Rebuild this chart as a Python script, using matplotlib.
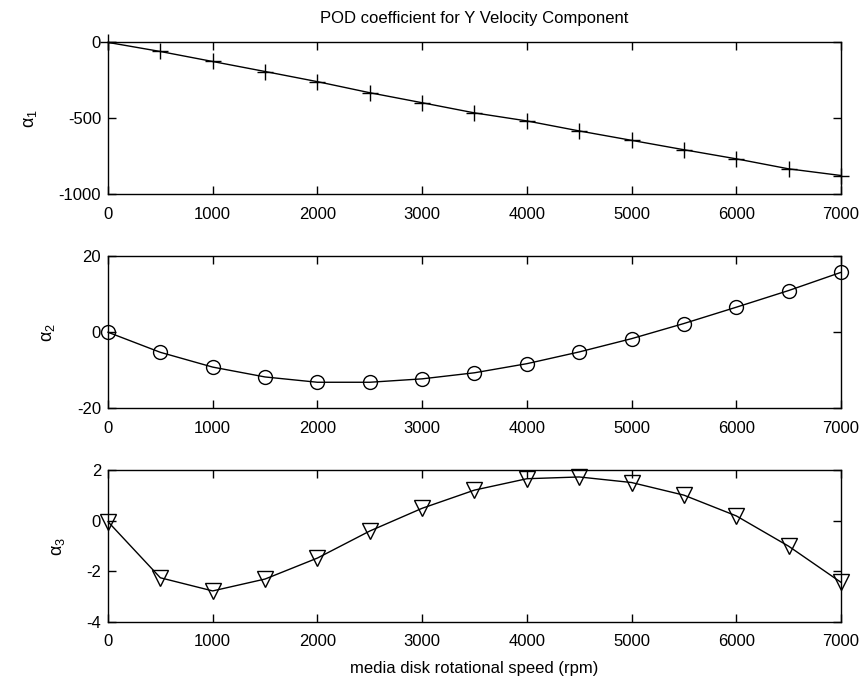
import numpy as np
import matplotlib
matplotlib.use("Agg")
import matplotlib.pyplot as plt

# rotational speed (rpm)
speed = [0, 500, 1000, 1500, 2000, 2500, 3000, 3500, 4000, 4500, 5000, 5500, 6000, 6500, 7000]

# POD coefficients
alpha1 = [0, -60, -126, -192, -259, -332, -398, -465, -518, -584, -646, -708, -768, -834, -878]
alpha2 = [0, -5.3, -9.2, -11.8, -13.2, -13.2, -12.3, -10.7, -8.3, -5.2, -1.7, 2.3, 6.6, 11.0, 15.8]
alpha3 = [-0.03, -2.25, -2.77, -2.3, -1.47, -0.4, 0.5, 1.22, 1.67, 1.74, 1.52, 1.02, 0.2, -1.0, -2.43]

xticks = [0, 1000, 2000, 3000, 4000, 5000, 6000, 7000]

plt.rcParams['font.family'] = ['Liberation Sans', 'DejaVu Sans']
plt.rcParams['font.size'] = 12
plt.rcParams['axes.unicode_minus'] = False
plt.rcParams['mathtext.default'] = 'regular'

fig = plt.figure(figsize=(8.66, 6.86), dpi=100)

left, width, height = 0.1247, 0.8464, 0.221
bottoms = [0.7172, 0.4052, 0.0933]

panels = [
    (alpha1, '+', 12, (-1000, 0), [-1000, -500, 0], r'$\alpha_1$'),
    (alpha2, 'o', 10, (-20, 20), [-20, 0, 20], r'$\alpha_2$'),
    (alpha3, 'v', 11, (-4, 2), [-4, -2, 0, 2], r'$\alpha_3$'),
]

axes = []
for (vals, mk, ms, ylim, yt, lab), b in zip(panels, bottoms):
    ax = fig.add_axes([left, b, width, height])
    ax.plot(speed, vals, color='black', lw=1, marker=mk, ms=ms,
            mfc='none', mec='black', mew=1, clip_on=False)
    ax.set_xlim(0, 7000)
    ax.set_ylim(*ylim)
    ax.set_xticks(xticks)
    ax.set_yticks(yt)
    ax.tick_params(direction='in', top=True, right=True, length=6, width=1,
                   labelsize=12)
    ax.tick_params(axis='x', pad=9)
    ax.tick_params(axis='y', pad=5)
    for s in ax.spines.values():
        s.set_linewidth(1)
    ax.set_ylabel(lab, fontsize=13, labelpad=14)
    axes.append(ax)

axes[0].set_title('POD coefficient for Y Velocity Component', fontsize=12, pad=14)
axes[2].set_xlabel('media disk rotational speed (rpm)', fontsize=12, labelpad=8)

fig.savefig('out.png', dpi=100)
